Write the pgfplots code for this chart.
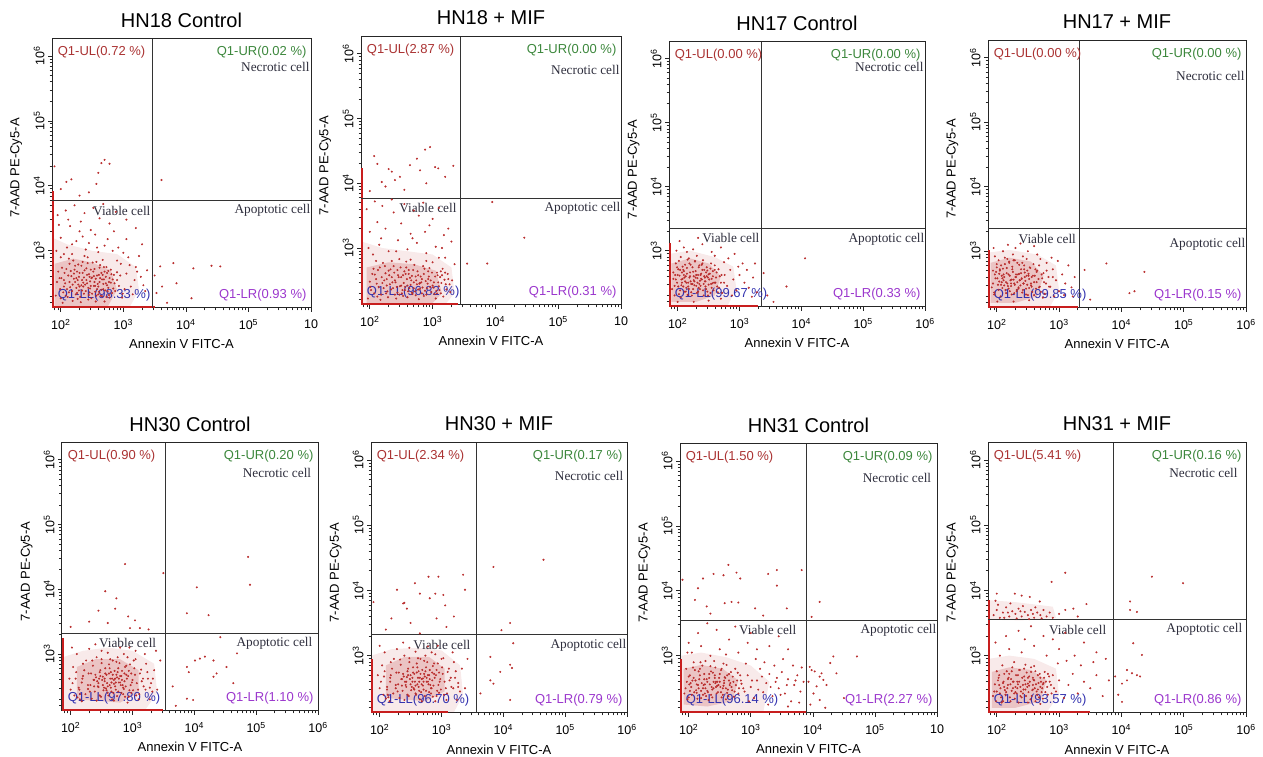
\documentclass[border=0pt]{standalone}
\usepackage{pgfplots}
\pgfplotsset{compat=1.18}
\usepackage{fontspec}
\setmainfont{Liberation Sans}
\newfontfamily\serifcell{Liberation Serif}
\definecolor{dotred}{RGB}{185,45,45}
\definecolor{pilered}{RGB}{200,30,30}
\definecolor{ulc}{RGB}{170,50,50}
\definecolor{urc}{RGB}{60,135,60}
\definecolor{llc}{RGB}{50,50,175}
\definecolor{lrc}{RGB}{155,55,205}
\definecolor{cellc}{RGB}{45,45,60}
\newcommand{\qf}{\fontsize{13}{15}\selectfont}
\newcommand{\cf}{\serifcell\fontsize{13.3}{15}\selectfont}
\newcommand{\tsup}[1]{10\textsuperscript{#1}}
\pgfplotsset{
  fcs/.style={
    scale only axis, anchor=south west,
    xmin=1.86, xmax=6.0, ymin=2.12, ymax=6.26,
    axis line style={line width=1pt, black!85},
    tick pos=left, tick align=outside,
    xtick={2,3,4,5,6}, ytick={3,4,5,6},
    minor xtick={1.903,1.954,2.301,2.477,2.602,2.699,2.778,2.845,2.903,2.954,3.301,3.477,3.602,3.699,3.778,3.845,3.903,3.954,4.301,4.477,4.602,4.699,4.778,4.845,4.903,4.954,5.301,5.477,5.602,5.699,5.778,5.845,5.903,5.954},
    minor ytick={2.204,2.301,2.477,2.602,2.699,2.778,2.845,2.903,2.954,3.301,3.477,3.602,3.699,3.778,3.845,3.903,3.954,4.301,4.477,4.602,4.699,4.778,4.845,4.903,4.954,5.301,5.477,5.602,5.699,5.778,5.845,5.903,5.954},
    major tick length=4pt, minor tick length=2.5pt,
    every tick/.style={black!85, line width=0.7pt},
    yticklabels={\tsup{3},\tsup{4},\tsup{5},\tsup{6}},
    yticklabel style={rotate=90, anchor=south, font=\fontsize{12.5}{14}\selectfont},
    xticklabel style={font=\fontsize{12.5}{14}\selectfont, yshift=-4pt},
    xlabel={Annexin V FITC-A}, ylabel={7-AAD PE-Cy5-A},
    every axis x label/.style={at={(axis description cs:0.5,-0.135)}, anchor=center, font=\fontsize{13}{15}\selectfont},
    every axis y label/.style={at={(axis description cs:-0.138,0.52)}, rotate=90, anchor=center, font=\fontsize{13}{15}\selectfont},
    title style={at={(0.5,1)}, anchor=center, yshift=13pt, font=\fontsize{20}{24}\selectfont},
  },
  xsix/.style={xticklabels={\tsup{2},\tsup{3},\tsup{4},\tsup{5},\tsup{6}}},
  xten/.style={xticklabels={\tsup{2},\tsup{3},\tsup{4},\tsup{5},10}},
  pts/.style={only marks, color=dotred, mark=*, mark size=0.8pt, mark options={draw=none, fill=dotred}},
  under/.style={draw=none, fill=dotred, fill opacity=0.1, no marks},
  core/.style={draw=none, fill=dotred, fill opacity=0.2, no marks},
  pile/.style={no marks, line width=1.8pt, color=pilered},
  gate/.style={no marks, line width=0.9pt, color=black!80},
}
\newcommand{\qlab}[4]{%
  \node[anchor=west, text=ulc, font=\qf, inner sep=0.5pt] at (rel axis cs:0.02,0.951) {Q1-UL(#1 \%)};
  \node[anchor=east, text=urc, font=\qf, inner sep=0.5pt] at (rel axis cs:0.985,0.951) {Q1-UR(#2 \%)};
  \node[anchor=west, text=llc, font=\qf, inner sep=0.5pt] at (rel axis cs:0.02,0.049) {Q1-LL(#3 \%)};
  \node[anchor=east, text=lrc, font=\qf, inner sep=0.5pt] at (rel axis cs:0.985,0.049) {Q1-LR(#4 \%)};
}
% #1 gx, #2 gy, #3 necrotic rel y, #4 necrotic rel x, #5 viable xshift, #6 apoptotic x, #7 apoptotic yshift
\newcommand{\clab}[7]{%
  \node[anchor=east, text=cellc, font=\cf, inner sep=0.5pt] at (rel axis cs:#4,#3) {Necrotic cell};
  \node[anchor=east, text=cellc, font=\cf, inner sep=0.5pt, xshift=-#5pt, yshift=-10pt] at (axis cs:#1,#2) {Viable cell};
  \node[anchor=east, text=cellc, font=\cf, inner sep=0.5pt, yshift=-#7pt] at (axis cs:#6,#2) {Apoptotic cell};
}
\begin{document}
\begin{tikzpicture}
\useasboundingbox (0,0) rectangle (1263pt,757pt);
% ---------------- HN18 Control
\begin{axis}[fcs, xten, at={(52pt,449pt)}, width=259pt, height=269pt, title={HN18 Control}]
\addplot[under] coordinates {(1.87,2.13) (1.87,3.2) (2.1,3.1) (2.5,3.0) (2.9,2.95) (3.2,2.75) (3.25,2.4) (3.1,2.13)} --cycle;
\addplot[core] coordinates {(1.9,2.14) (1.9,2.8) (2.2,2.88) (2.5,2.82) (2.8,2.7) (2.9,2.4) (2.75,2.14)} --cycle;
\addplot[pts] coordinates {(2.05,2.45) (2.12,2.62) (2.18,2.38) (2.22,2.71) (2.27,2.55) (2.31,2.29) (2.35,2.66) (2.39,2.48) (2.43,2.81) (2.46,2.36) (2.5,2.59) (2.54,2.72) (2.58,2.41) (2.62,2.52) (2.66,2.3) (2.7,2.68) (2.74,2.47) (2.78,2.58) (2.82,2.35) (2.02,2.74) (2.08,2.31) (2.14,2.52) (2.2,2.85) (2.25,2.43) (2.29,2.6) (2.33,2.77) (2.37,2.34) (2.41,2.55) (2.45,2.64) (2.49,2.27) (2.53,2.46) (2.57,2.83) (2.61,2.63) (2.65,2.4) (2.69,2.56) (2.73,2.75) (2.77,2.32) (2.81,2.64) (2.86,2.5) (1.98,2.58) (2.1,2.41) (2.16,2.69) (2.24,2.33) (2.28,2.79) (2.36,2.51) (2.44,2.43) (2.48,2.71) (2.56,2.57) (2.6,2.33) (2.68,2.49) (2.76,2.69) (2.84,2.42) (2.04,2.36) (2.13,2.88) (2.21,2.57) (2.3,2.45) (2.38,2.92) (2.47,2.53) (2.55,2.37) (2.63,2.78) (2.72,2.6) (2.8,2.51) (2.0,2.27) (2.06,2.66) (2.19,2.48) (2.26,2.68) (2.34,2.39) (2.42,2.63) (2.51,2.82) (2.59,2.49) (2.67,2.63) (2.75,2.38)
(1.92,2.31) (1.94,2.52) (1.96,2.68) (1.99,2.41) (2.01,2.58) (2.03,2.2) (2.07,2.5) (2.09,2.72) (2.11,2.29) (2.15,2.44) (2.17,2.61) (2.19,2.23) (2.23,2.52) (2.23,2.77) (2.26,2.35) (2.28,2.48) (2.3,2.66) (2.32,2.21) (2.34,2.55) (2.36,2.45) (2.38,2.7) (2.4,2.38) (2.42,2.5) (2.44,2.25) (2.46,2.6) (2.48,2.46) (2.5,2.34) (2.52,2.68) (2.54,2.52) (2.56,2.22) (2.58,2.62) (2.6,2.45) (2.62,2.74) (2.64,2.31) (2.66,2.56) (2.68,2.41) (2.7,2.22) (2.72,2.5) (2.74,2.66) (2.76,2.43) (2.78,2.28) (2.8,2.71) (2.83,2.56) (2.87,2.38) (2.9,2.67) (2.93,2.46) (2.96,2.8) (2.99,2.34) (2.13,2.36) (2.21,2.65) (2.29,2.39) (2.37,2.59) (2.45,2.32) (2.53,2.61) (2.61,2.37) (2.69,2.75) (2.77,2.52) (2.05,2.55) (2.14,2.8) (2.27,2.26) (2.35,2.83) (2.47,2.42) (2.57,2.31) (2.65,2.66) (2.73,2.29) (2.85,2.63) (2.0,2.9) (2.18,2.95) (2.43,2.9) (2.67,2.86) (3.12,2.45) (3.2,2.75) (3.28,2.6) (3.35,2.38) (3.05,2.65) (2.25,2.58) (2.33,2.47) (2.41,2.73) (2.49,2.58) (2.55,2.46) (2.63,2.58) (2.71,2.39)
(2.95,2.62) (3.02,2.41) (3.1,2.78) (3.18,2.55) (3.25,2.92) (3.32,2.47) (3.38,2.7) (2.92,3.05) (3.05,3.18) (3.15,2.33) (2.9,2.85) (3.0,2.97) (2.98,2.28) (3.22,2.68) (3.3,3.1) (2.1,3.05) (2.25,3.15) (2.4,3.02) (2.55,3.25) (2.7,3.08) (2.85,3.3) (2.0,3.2) (2.15,3.38) (2.32,3.45) (2.48,3.32) (2.62,3.5) (2.78,3.42) (1.95,3.55) (2.08,3.62) (2.22,3.7) (2.38,3.58) (2.52,3.66) (2.68,3.72) (2.88,3.6) (3.05,3.48) (3.2,3.35) (1.93,3.0) (2.05,2.95) (2.18,3.1) (2.35,3.22) (2.6,2.98) (2.75,3.18) (2.45,3.12) (2.9,2.55) (3.08,2.9) (2.12,3.48) (2.3,3.3) (1.97,3.4) (2.58,3.05) (2.83,3.0)
(2.65,4.35) (2.7,4.4) (2.78,4.34) (2.6,4.2) (2.57,4.03) (2.17,4.1) (2.09,4.06) (3.61,4.09) (1.9,4.3) (2.45,3.9) (2.3,3.85) (2.0,3.95)
(3.59,2.76) (3.8,2.81) (4.12,2.73) (4.41,2.77) (4.55,2.76) (3.85,2.5) (4.09,2.27) (3.53,2.35) (3.62,2.45) (3.5,2.62) (3.7,2.2)};
\addplot[pile] coordinates {(1.875,2.12) (1.875,3.92)};
\addplot[pile] coordinates {(1.86,2.137) (3.5,2.137)};
\addplot[gate] coordinates {(3.46,2.12) (3.46,6.26)};
\addplot[gate] coordinates {(1.86,3.77) (6.0,3.77)};
\qlab{0.72}{0.02}{98.33}{0.93}
\clab{3.46}{3.77}{0.896}{0.997}{1}{6.0}{10}
\end{axis}
% ---------------- HN18 + MIF
\begin{axis}[fcs, xten, at={(361pt,452pt)}, width=260pt, height=268pt, title={HN18 + MIF}]
\addplot[under] coordinates {(1.87,2.13) (1.87,3.1) (2.2,3.0) (2.6,2.95) (3.0,2.9) (3.3,2.7) (3.35,2.3) (3.2,2.13)} --cycle;
\addplot[core] coordinates {(1.95,2.15) (1.95,2.7) (2.3,2.78) (2.7,2.75) (3.05,2.65) (3.15,2.3) (3.0,2.15)} --cycle;
\addplot[pts] coordinates {(2.02,2.35) (2.1,2.52) (2.18,2.28) (2.25,2.61) (2.32,2.44) (2.38,2.72) (2.44,2.31) (2.5,2.55) (2.56,2.4) (2.62,2.66) (2.68,2.29) (2.74,2.5) (2.8,2.37) (2.86,2.6) (2.92,2.45) (2.98,2.32) (3.04,2.56) (3.1,2.41) (3.16,2.68) (3.22,2.36) (2.06,2.68) (2.14,2.4) (2.21,2.77) (2.28,2.33) (2.35,2.55) (2.41,2.47) (2.47,2.83) (2.53,2.26) (2.59,2.52) (2.65,2.43) (2.71,2.74) (2.77,2.58) (2.83,2.3) (2.89,2.49) (2.95,2.69) (3.01,2.39) (3.07,2.62) (3.13,2.3) (3.19,2.51) (3.27,2.44) (2.0,2.48) (2.12,2.25) (2.23,2.5) (2.3,2.65) (2.37,2.38) (2.45,2.58) (2.52,2.35) (2.58,2.79) (2.64,2.54) (2.7,2.38) (2.76,2.64) (2.82,2.47) (2.88,2.34) (2.94,2.56) (3.0,2.78) (3.06,2.34) (3.12,2.55) (3.2,2.62) (2.08,2.59) (2.16,2.7) (2.27,2.42) (2.4,2.28) (2.48,2.41) (2.55,2.64) (2.61,2.33) (2.67,2.57) (2.73,2.27) (2.79,2.45) (2.85,2.72) (2.91,2.38) (2.97,2.5) (3.03,2.29) (3.09,2.47) (3.15,2.58) (3.25,2.52)
(1.97,2.22) (2.01,2.4) (2.04,2.6) (2.07,2.3) (2.11,2.45) (2.13,2.66) (2.17,2.2) (2.19,2.55) (2.22,2.38) (2.24,2.72) (2.27,2.52) (2.29,2.24) (2.31,2.58) (2.34,2.36) (2.36,2.47) (2.39,2.62) (2.42,2.22) (2.43,2.4) (2.46,2.55) (2.49,2.7) (2.51,2.3) (2.54,2.46) (2.57,2.6) (2.6,2.24) (2.63,2.38) (2.66,2.5) (2.69,2.66) (2.72,2.33) (2.75,2.44) (2.78,2.21) (2.81,2.56) (2.84,2.39) (2.87,2.68) (2.9,2.28) (2.93,2.52) (2.96,2.4) (2.99,2.62) (3.02,2.47) (3.05,2.22) (3.08,2.58) (3.11,2.35) (3.14,2.46) (3.17,2.25) (3.21,2.44) (3.24,2.6) (3.28,2.32) (3.31,2.5) (2.2,2.46) (2.26,2.3) (2.33,2.67) (2.4,2.5) (2.47,2.28) (2.53,2.58) (2.6,2.42) (2.67,2.31) (2.73,2.56) (2.8,2.46) (2.86,2.26) (2.93,2.64) (3.0,2.42) (3.07,2.3) (3.13,2.64) (2.56,2.35) (2.62,2.6) (2.7,2.47) (2.77,2.36) (2.83,2.52) (2.5,2.42) (2.44,2.66) (2.58,2.7) (2.35,2.8) (2.65,2.82) (2.9,2.8) (3.1,2.85) (2.1,2.8)
(2.05,2.9) (2.15,3.05) (2.3,2.95) (2.45,3.12) (2.6,2.98) (2.75,3.08) (2.9,2.92) (3.05,3.02) (3.2,2.85) (3.3,3.1) (2.0,3.25) (2.12,3.4) (2.25,3.3) (2.38,3.55) (2.5,3.38) (2.65,3.22) (2.78,3.5) (2.95,3.35) (3.1,3.62) (3.25,3.3) (1.95,3.6) (2.08,3.72) (2.2,3.65) (2.35,3.75) (2.55,3.68) (2.7,3.58) (2.85,3.7) (3.0,3.45) (3.18,3.2) (3.35,2.75) (2.42,2.95) (2.68,3.15) (2.18,3.15) (1.98,3.0) (2.88,3.25) (3.15,3.0)
(2.96,4.56) (2.88,4.52) (2.64,4.28) (2.35,4.18) (2.19,4.02) (2.48,4.1) (2.8,4.2) (3.04,4.25) (3.33,4.27) (2.12,4.3) (2.07,4.42) (2.75,4.38) (3.09,4.23) (2.25,3.95) (2.55,3.9) (2.0,3.88) (2.4,4.05) (2.9,4.0) (3.2,4.1) (2.3,4.22)
(3.95,3.71) (4.46,3.16) (3.87,2.76) (3.55,2.76)};
\addplot[pile] coordinates {(1.875,2.12) (1.875,4.23)};
\addplot[pile] coordinates {(1.86,2.137) (3.4,2.137)};
\addplot[gate] coordinates {(3.44,2.12) (3.44,6.26)};
\addplot[gate] coordinates {(1.86,3.77) (6.0,3.77)};
\qlab{2.87}{0.00}{96.82}{0.31}
\clab{3.44}{3.77}{0.877}{0.997}{3}{6.0}{10}
\end{axis}
% ---------------- HN17 Control
\begin{axis}[fcs, xsix, at={(669pt,450pt)}, width=256pt, height=265pt, title={HN17 Control}]
\addplot[under] coordinates {(1.87,2.13) (1.87,2.95) (2.2,3.0) (2.6,2.9) (2.9,2.75) (2.95,2.4) (2.8,2.13)} --cycle;
\addplot[core] coordinates {(1.9,2.2) (1.9,2.8) (2.2,2.88) (2.5,2.8) (2.7,2.6) (2.6,2.3) (2.3,2.2)} --cycle;
\addplot[pts] coordinates {(1.95,2.45) (2.0,2.62) (2.04,2.38) (2.08,2.75) (2.12,2.52) (2.16,2.31) (2.2,2.66) (2.24,2.48) (2.28,2.83) (2.32,2.57) (2.36,2.4) (2.4,2.7) (2.44,2.52) (2.48,2.36) (2.52,2.64) (2.56,2.49) (2.6,2.77) (2.64,2.44) (2.68,2.6) (2.72,2.34) (1.97,2.8) (2.02,2.32) (2.06,2.55) (2.1,2.68) (2.14,2.42) (2.18,2.88) (2.22,2.35) (2.26,2.6) (2.3,2.45) (2.34,2.74) (2.38,2.56) (2.42,2.3) (2.46,2.66) (2.5,2.47) (2.54,2.8) (2.58,2.38) (2.62,2.58) (2.66,2.71) (2.7,2.5) (2.76,2.62) (1.93,2.56) (2.01,2.71) (2.09,2.44) (2.13,2.6) (2.17,2.5) (2.21,2.78) (2.25,2.4) (2.29,2.68) (2.33,2.36) (2.37,2.62) (2.41,2.85) (2.45,2.44) (2.49,2.58) (2.53,2.34) (2.57,2.68) (2.61,2.5) (2.65,2.35) (2.05,2.9) (2.19,2.58) (2.27,2.52) (2.35,2.48) (2.43,2.6) (2.11,2.36) (2.31,2.92) (2.39,2.78) (2.47,2.74) (2.55,2.56) (1.99,2.5) (2.07,2.66) (2.15,2.73)
(1.91,2.4) (1.93,2.66) (1.95,2.3) (1.97,2.55) (1.99,2.74) (2.01,2.44) (2.03,2.61) (2.05,2.27) (2.07,2.5) (2.09,2.7) (2.11,2.58) (2.13,2.36) (2.15,2.64) (2.17,2.44) (2.19,2.8) (2.21,2.52) (2.23,2.3) (2.25,2.67) (2.27,2.46) (2.29,2.58) (2.31,2.34) (2.33,2.62) (2.35,2.77) (2.37,2.45) (2.39,2.55) (2.41,2.38) (2.43,2.7) (2.45,2.52) (2.47,2.6) (2.49,2.3) (2.51,2.55) (2.53,2.72) (2.55,2.42) (2.57,2.6) (2.59,2.5) (2.63,2.66) (2.67,2.42) (2.71,2.62) (2.75,2.5) (2.08,2.56) (2.14,2.5) (2.2,2.6) (2.26,2.54) (2.32,2.5) (2.38,2.64) (2.44,2.58) (2.5,2.63) (2.18,2.4) (2.24,2.74) (2.3,2.62) (2.36,2.53) (2.42,2.48) (2.48,2.69) (2.12,2.78) (2.06,2.46) (2.28,2.84) (2.4,2.8) (2.54,2.48) (2.6,2.7) (2.02,2.84) (2.16,2.86) (2.46,2.4) (2.22,2.48) (2.34,2.42) (2.1,2.62) (2.04,2.7) (1.96,2.62) (2.26,2.2) (2.5,2.22) (2.7,2.25) (2.0,2.2)
(2.8,2.45) (2.85,2.7) (2.9,2.55) (2.95,2.38) (3.0,2.62) (3.08,2.5) (3.15,2.42) (3.22,2.58) (3.28,2.35) (2.82,2.88) (2.92,2.95) (3.05,2.8) (1.98,3.0) (2.1,3.05) (2.25,3.02) (2.4,3.1) (2.55,2.98) (2.7,3.05) (2.6,2.92) (2.15,2.98) (2.75,2.82) (3.12,2.7) (2.88,2.3) (3.2,2.28) (2.03,3.15) (2.33,3.2) (2.98,2.75) (3.25,2.8)
(3.39,2.65) (4.06,2.88) (3.76,2.44) (3.55,2.2) (3.45,2.3)};
\addplot[pile] coordinates {(1.875,2.12) (1.875,3.12)};
\addplot[pile] coordinates {(1.86,2.137) (3.3,2.137)};
\addplot[gate] coordinates {(3.35,2.12) (3.35,6.26)};
\addplot[gate] coordinates {(1.86,3.35) (6.0,3.35)};
\qlab{0.00}{0.00}{99.67}{0.33}
\clab{3.35}{3.35}{0.906}{0.997}{1}{6.0}{11}
\end{axis}
% ---------------- HN17 + MIF
\begin{axis}[fcs, xsix, at={(988pt,449pt)}, width=258pt, height=267pt, title={HN17 + MIF}]
\addplot[under] coordinates {(1.87,2.13) (1.87,2.98) (2.2,3.02) (2.65,2.95) (2.95,2.78) (3.0,2.4) (2.85,2.13)} --cycle;
\addplot[core] coordinates {(1.9,2.2) (1.9,2.82) (2.2,2.9) (2.55,2.84) (2.75,2.62) (2.65,2.3) (2.3,2.2)} --cycle;
\addplot[pts] coordinates {(1.94,2.5) (1.99,2.68) (2.03,2.4) (2.07,2.78) (2.11,2.55) (2.15,2.35) (2.19,2.64) (2.23,2.46) (2.27,2.86) (2.31,2.6) (2.35,2.42) (2.39,2.72) (2.43,2.5) (2.47,2.33) (2.51,2.62) (2.55,2.47) (2.59,2.8) (2.63,2.42) (2.67,2.57) (2.71,2.37) (2.75,2.66) (2.79,2.5) (1.96,2.33) (2.01,2.58) (2.05,2.7) (2.09,2.43) (2.13,2.9) (2.17,2.5) (2.21,2.38) (2.25,2.72) (2.29,2.48) (2.33,2.82) (2.37,2.55) (2.41,2.36) (2.45,2.67) (2.49,2.48) (2.53,2.75) (2.57,2.37) (2.61,2.62) (2.65,2.7) (2.69,2.45) (2.73,2.58) (2.77,2.34) (2.83,2.6) (2.0,2.8) (2.08,2.62) (2.16,2.74) (2.24,2.56) (2.32,2.4) (2.4,2.58) (2.48,2.88) (2.56,2.6) (2.64,2.52) (2.12,2.47) (2.2,2.84) (2.28,2.35) (2.36,2.65) (2.44,2.78) (2.52,2.43) (2.6,2.32) (2.68,2.78) (2.04,2.53) (1.97,2.92) (2.26,2.95) (2.42,2.92)
(1.92,2.44) (1.94,2.7) (1.96,2.36) (1.98,2.58) (2.0,2.75) (2.02,2.48) (2.04,2.65) (2.06,2.3) (2.08,2.52) (2.1,2.73) (2.12,2.6) (2.14,2.4) (2.16,2.66) (2.18,2.46) (2.2,2.82) (2.22,2.55) (2.24,2.33) (2.26,2.68) (2.28,2.5) (2.3,2.6) (2.32,2.38) (2.34,2.64) (2.36,2.79) (2.38,2.47) (2.4,2.57) (2.42,2.4) (2.44,2.72) (2.46,2.54) (2.48,2.62) (2.5,2.32) (2.52,2.57) (2.54,2.74) (2.56,2.45) (2.58,2.62) (2.6,2.52) (2.64,2.68) (2.68,2.44) (2.72,2.64) (2.76,2.52) (2.8,2.7) (2.84,2.45) (2.09,2.58) (2.15,2.52) (2.21,2.62) (2.27,2.56) (2.33,2.52) (2.39,2.66) (2.45,2.6) (2.51,2.65) (2.19,2.42) (2.25,2.76) (2.31,2.64) (2.37,2.55) (2.43,2.5) (2.49,2.7) (2.13,2.8) (2.07,2.48) (2.29,2.86) (2.41,2.82) (2.55,2.5) (2.62,2.72) (2.03,2.86) (2.17,2.88) (2.47,2.42) (2.23,2.5) (2.35,2.44) (2.11,2.64) (2.05,2.72) (1.97,2.64) (2.27,2.22) (2.52,2.24) (2.74,2.28) (2.01,2.22) (2.7,2.88) (2.9,2.6)
(2.86,2.45) (2.9,2.72) (2.95,2.55) (3.0,2.38) (3.05,2.64) (3.1,2.5) (3.15,2.78) (3.2,2.44) (3.25,2.6) (2.88,2.9) (2.98,2.85) (1.95,3.05) (2.1,3.0) (2.3,3.05) (2.5,3.0) (2.65,2.95) (2.8,2.82) (3.08,2.32) (2.18,3.1) (2.6,3.08) (2.92,2.3) (2.38,3.12) (3.22,2.3)
(3.41,2.71) (3.76,2.81) (4.37,2.68) (4.13,2.35) (4.21,2.38) (3.5,2.25)};
\addplot[pile] coordinates {(1.875,2.12) (1.875,3.02)};
\addplot[pile] coordinates {(1.86,2.137) (3.3,2.137)};
\addplot[gate] coordinates {(3.33,2.12) (3.33,6.26)};
\addplot[gate] coordinates {(1.86,3.35) (6.0,3.35)};
\qlab{0.00}{0.00}{99.85}{0.15}
\clab{3.33}{3.35}{0.87}{0.997}{3}{6.0}{16}
\end{axis}
% ---------------- HN30 Control
\begin{axis}[fcs, xsix, at={(62pt,46pt)}, width=256pt, height=268pt, title={HN30 Control}]
\addplot[under] coordinates {(1.87,2.13) (1.87,2.95) (2.2,3.05) (2.6,3.1) (3.0,3.05) (3.35,2.85) (3.4,2.4) (3.2,2.13)} --cycle;
\addplot[core] coordinates {(2.1,2.3) (2.1,2.8) (2.4,2.92) (2.8,2.92) (3.1,2.75) (3.1,2.4) (2.8,2.25)} --cycle;
\addplot[pts] coordinates {(2.0,2.45) (2.08,2.62) (2.15,2.38) (2.22,2.75) (2.28,2.52) (2.34,2.31) (2.4,2.68) (2.45,2.49) (2.5,2.86) (2.55,2.58) (2.6,2.4) (2.65,2.72) (2.7,2.54) (2.75,2.35) (2.8,2.66) (2.85,2.48) (2.9,2.82) (2.95,2.44) (3.0,2.6) (3.06,2.36) (3.12,2.7) (3.18,2.5) (3.25,2.62) (3.32,2.42) (2.04,2.8) (2.11,2.33) (2.18,2.56) (2.25,2.9) (2.31,2.42) (2.37,2.6) (2.42,2.95) (2.47,2.36) (2.52,2.65) (2.57,2.47) (2.62,2.84) (2.67,2.3) (2.72,2.62) (2.77,2.78) (2.82,2.4) (2.87,2.58) (2.92,2.95) (2.97,2.52) (3.03,2.78) (3.09,2.45) (3.15,2.58) (3.22,2.85) (3.3,2.55) (2.38,2.5) (2.48,2.75) (2.58,2.68) (2.63,2.52) (2.68,2.9) (2.73,2.45) (2.78,2.56) (2.83,2.74) (2.88,2.34) (2.93,2.66) (2.98,2.4) (2.53,2.44) (2.43,2.58) (2.33,2.7) (2.64,2.62) (2.74,2.68) (2.84,2.52) (2.94,2.74) (2.56,2.78) (2.46,2.62) (2.66,2.42) (2.76,2.95) (3.02,2.9) (2.2,2.66) (2.13,2.48) (2.06,2.36) (2.86,3.0) (2.6,3.02) (2.7,2.28) (3.1,2.3)
(2.03,2.55) (2.09,2.72) (2.14,2.45) (2.19,2.62) (2.24,2.38) (2.29,2.7) (2.32,2.52) (2.36,2.82) (2.39,2.42) (2.41,2.64) (2.44,2.5) (2.47,2.72) (2.49,2.34) (2.51,2.6) (2.54,2.48) (2.56,2.7) (2.59,2.55) (2.61,2.36) (2.63,2.78) (2.65,2.48) (2.67,2.62) (2.69,2.4) (2.71,2.74) (2.73,2.56) (2.75,2.64) (2.77,2.42) (2.79,2.86) (2.81,2.52) (2.83,2.6) (2.85,2.38) (2.87,2.7) (2.89,2.5) (2.91,2.62) (2.94,2.34) (2.96,2.84) (2.99,2.56) (3.01,2.44) (3.04,2.68) (3.07,2.55) (3.11,2.38) (3.14,2.76) (3.17,2.62) (3.21,2.45) (3.24,2.72) (3.28,2.48) (3.33,2.62) (2.45,2.55) (2.55,2.62) (2.6,2.5) (2.7,2.6) (2.8,2.56) (2.9,2.68) (2.62,2.7) (2.72,2.5) (2.82,2.66) (2.52,2.52) (2.66,2.56) (2.76,2.72) (2.86,2.46) (2.58,2.44) (2.68,2.68) (2.78,2.62) (2.48,2.66) (2.38,2.6) (2.28,2.46) (2.88,2.8) (2.98,2.7) (2.74,2.88) (2.64,2.92) (2.5,2.92) (2.35,2.9) (3.05,2.92) (2.2,2.85) (2.15,2.3) (2.42,2.28) (2.92,2.25)
(2.1,3.0) (2.3,3.08) (2.5,3.05) (3.2,3.0) (3.35,2.75) (3.4,2.45) (3.45,2.9) (1.98,2.62) (2.02,3.1) (2.95,3.1) (2.4,3.15) (3.28,2.3) (2.18,2.27) (3.38,3.05) (2.8,3.1) (3.05,3.05)
(2.88,4.39) (2.56,3.97) (2.74,3.86) (2.45,3.67) (2.72,3.7) (2.93,3.58) (3.04,3.52) (2.96,3.4) (3.12,3.4) (3.26,3.38) (3.5,4.25) (2.3,3.5) (2.0,3.42) (2.6,3.48)
(4.87,4.5) (4.9,4.07) (4.04,4.03) (3.88,3.63) (4.23,3.6)
(3.88,2.8) (3.91,2.72) (4.01,2.9) (4.09,2.93) (4.17,2.96) (4.42,3.26) (4.31,2.65) (4.36,2.7) (4.52,2.8) (4.69,3.01) (3.88,2.31) (3.98,2.29) (4.31,2.9) (4.63,2.55) (3.65,2.5) (3.7,2.2)};
\addplot[pile] coordinates {(1.875,2.12) (1.875,3.25)};
\addplot[pile] coordinates {(1.86,2.137) (3.5,2.137)};
\addplot[gate] coordinates {(3.54,2.12) (3.54,6.26)};
\addplot[gate] coordinates {(1.86,3.32) (6.0,3.32)};
\qlab{0.90}{0.20}{97.80}{1.10}
\clab{3.54}{3.32}{0.888}{0.976}{9}{5.92}{10}
\end{axis}
% ---------------- HN30 + MIF
\begin{axis}[fcs, xsix, at={(371pt,44pt)}, width=256pt, height=270pt, title={HN30 + MIF}]
\addplot[under] coordinates {(1.87,2.13) (1.87,3.0) (2.2,3.1) (2.6,3.12) (3.0,3.08) (3.3,2.85) (3.35,2.4) (3.2,2.13)} --cycle;
\addplot[core] coordinates {(2.1,2.35) (2.1,2.85) (2.4,2.98) (2.8,2.98) (3.05,2.8) (3.05,2.45) (2.75,2.3)} --cycle;
\addplot[pts] coordinates {(2.0,2.5) (2.07,2.68) (2.13,2.4) (2.2,2.8) (2.26,2.55) (2.32,2.35) (2.38,2.72) (2.43,2.52) (2.48,2.9) (2.53,2.6) (2.58,2.42) (2.63,2.76) (2.68,2.56) (2.73,2.38) (2.78,2.7) (2.83,2.5) (2.88,2.88) (2.93,2.46) (2.98,2.64) (3.04,2.4) (3.1,2.75) (3.16,2.52) (3.22,2.66) (3.3,2.45) (2.04,2.85) (2.1,2.34) (2.17,2.6) (2.23,2.95) (2.29,2.45) (2.35,2.64) (2.4,3.0) (2.45,2.4) (2.5,2.7) (2.55,2.5) (2.6,2.88) (2.65,2.33) (2.7,2.65) (2.75,2.82) (2.8,2.44) (2.85,2.62) (2.9,3.02) (2.95,2.55) (3.01,2.82) (3.07,2.5) (3.13,2.62) (3.2,2.9) (3.27,2.58) (2.36,2.54) (2.46,2.8) (2.56,2.72) (2.61,2.56) (2.66,2.95) (2.71,2.48) (2.76,2.6) (2.81,2.78) (2.86,2.37) (2.91,2.7) (2.96,2.43) (2.51,2.47) (2.41,2.6) (2.31,2.74) (2.62,2.66) (2.72,2.72) (2.82,2.55) (2.92,2.78) (2.54,2.82) (2.44,2.67) (2.64,2.46) (2.74,3.0) (3.0,2.95) (2.18,2.7) (2.12,2.52) (2.06,2.4) (2.84,3.05) (2.58,3.06) (2.68,2.3) (3.08,2.32)
(2.02,2.6) (2.08,2.76) (2.12,2.48) (2.17,2.66) (2.22,2.42) (2.27,2.74) (2.3,2.56) (2.34,2.86) (2.37,2.46) (2.39,2.68) (2.42,2.55) (2.45,2.76) (2.47,2.38) (2.49,2.64) (2.52,2.52) (2.54,2.74) (2.57,2.6) (2.59,2.4) (2.61,2.82) (2.63,2.52) (2.65,2.66) (2.67,2.44) (2.69,2.78) (2.71,2.6) (2.73,2.68) (2.75,2.46) (2.77,2.9) (2.79,2.56) (2.81,2.64) (2.83,2.42) (2.85,2.74) (2.87,2.54) (2.89,2.66) (2.92,2.38) (2.94,2.88) (2.97,2.6) (2.99,2.48) (3.02,2.72) (3.05,2.6) (3.09,2.42) (3.12,2.8) (3.15,2.66) (3.19,2.5) (3.23,2.76) (3.27,2.52) (2.43,2.6) (2.53,2.66) (2.58,2.54) (2.68,2.64) (2.78,2.6) (2.88,2.72) (2.6,2.74) (2.7,2.54) (2.8,2.7) (2.5,2.56) (2.64,2.6) (2.74,2.76) (2.84,2.5) (2.56,2.48) (2.66,2.72) (2.76,2.66) (2.46,2.7) (2.36,2.64) (2.26,2.5) (2.86,2.84) (2.96,2.74) (2.72,2.92) (2.62,2.96) (2.48,2.96) (2.33,2.94) (3.03,2.96) (2.18,2.9) (2.14,2.36) (2.4,2.32) (2.9,2.3)
(2.08,3.05) (2.28,3.1) (2.48,3.12) (3.18,3.05) (3.33,2.8) (3.38,2.5) (3.42,2.95) (1.97,2.7) (2.0,3.15) (2.94,3.15) (2.38,3.2) (3.25,2.32) (2.16,2.3) (2.78,3.14)
(2.79,4.21) (2.95,4.21) (3.35,4.24) (3.38,4.01) (2.57,4.11) (2.65,3.95) (2.38,3.8) (2.28,4.01) (2.19,3.57) (2.44,3.72) (2.81,3.88) (2.9,3.95) (3.03,3.93) (3.06,3.77) (2.92,3.57) (3.08,3.44) (2.65,3.34) (1.9,3.82) (2.4,3.81) (2.1,3.4) (2.5,3.5) (3.2,3.6)
(3.84,4.36) (4.65,4.47) (4.11,3.5) (3.97,3.39)
(4.16,3.19) (3.79,2.98) (3.95,2.75) (4.11,2.86) (4.14,2.81) (3.79,2.62) (3.84,2.57) (4.11,2.32) (3.63,2.42)};
\addplot[pile] coordinates {(1.875,2.12) (1.875,2.95)};
\addplot[pile] coordinates {(1.86,2.137) (3.1,2.137)};
\addplot[gate] coordinates {(3.56,2.12) (3.56,6.26)};
\addplot[gate] coordinates {(1.86,3.32) (6.0,3.32)};
\qlab{2.34}{0.17}{96.70}{0.79}
\clab{3.56}{3.32}{0.877}{0.988}{5}{6.0}{11}
\end{axis}
% ---------------- HN31 Control
\begin{axis}[fcs, xten, at={(680pt,44pt)}, width=257pt, height=269pt, title={HN31 Control}]
\addplot[under] coordinates {(1.87,2.13) (1.87,3.0) (2.2,3.05) (2.6,2.98) (3.0,2.85) (3.3,2.6) (3.2,2.13)} --cycle;
\addplot[core] coordinates {(1.92,2.25) (1.92,2.8) (2.2,2.86) (2.55,2.8) (2.8,2.62) (2.7,2.3) (2.3,2.22)} --cycle;
\addplot[pts] coordinates {(1.95,2.5) (2.0,2.68) (2.05,2.4) (2.1,2.78) (2.15,2.55) (2.2,2.35) (2.25,2.64) (2.3,2.46) (2.35,2.84) (2.4,2.6) (2.45,2.42) (2.5,2.72) (2.55,2.5) (2.6,2.33) (2.65,2.62) (2.7,2.47) (2.75,2.8) (2.8,2.42) (2.85,2.57) (1.98,2.33) (2.03,2.58) (2.08,2.9) (2.13,2.43) (2.18,2.7) (2.23,2.5) (2.28,2.38) (2.33,2.72) (2.38,2.48) (2.43,2.82) (2.48,2.55) (2.53,2.36) (2.58,2.67) (2.63,2.48) (2.68,2.75) (2.73,2.37) (2.78,2.62) (2.83,2.7) (1.96,2.8) (2.06,2.62) (2.16,2.76) (2.26,2.56) (2.36,2.4) (2.46,2.6) (2.56,2.88) (2.66,2.55) (2.12,2.47) (2.22,2.85) (2.32,2.32) (2.42,2.66) (2.52,2.78) (2.62,2.43) (2.72,2.6) (2.02,2.46) (2.27,2.92) (2.44,2.52) (2.57,2.58)
(1.93,2.42) (1.97,2.6) (2.0,2.36) (2.02,2.7) (2.04,2.52) (2.07,2.82) (2.09,2.44) (2.11,2.62) (2.14,2.34) (2.16,2.5) (2.18,2.8) (2.21,2.58) (2.23,2.4) (2.25,2.72) (2.27,2.5) (2.29,2.64) (2.31,2.44) (2.34,2.56) (2.36,2.76) (2.38,2.36) (2.4,2.5) (2.42,2.7) (2.44,2.6) (2.47,2.44) (2.49,2.66) (2.51,2.52) (2.53,2.8) (2.55,2.4) (2.57,2.62) (2.6,2.5) (2.62,2.7) (2.64,2.38) (2.67,2.58) (2.69,2.52) (2.71,2.68) (2.74,2.45) (2.76,2.55) (2.79,2.74) (2.81,2.5) (2.84,2.62) (2.17,2.64) (2.24,2.55) (2.3,2.6) (2.37,2.52) (2.43,2.58) (2.5,2.6) (2.56,2.54) (2.13,2.56) (2.2,2.46) (2.33,2.66) (2.46,2.54) (2.59,2.66) (2.08,2.66) (2.26,2.42) (2.39,2.74) (2.52,2.44) (2.65,2.72) (2.01,2.56) (2.19,2.9) (2.41,2.92) (2.61,2.86) (2.88,2.5) (3.02,2.62) (3.12,2.48) (3.18,2.68) (3.32,2.52) (3.42,2.66) (3.48,2.4) (3.58,2.55) (3.72,2.62)
(2.9,2.45) (2.95,2.7) (3.0,2.52) (3.05,2.35) (3.1,2.62) (3.15,2.8) (3.2,2.44) (3.25,2.58) (3.3,2.72) (3.35,2.38) (3.4,2.6) (3.45,2.5) (3.5,2.75) (3.55,2.42) (3.6,2.64) (3.65,2.3) (3.7,2.55) (3.75,2.7) (3.8,2.45) (3.85,2.6) (2.92,2.88) (3.08,2.95) (3.22,2.9) (3.38,2.85) (3.52,2.95) (3.68,2.85) (3.82,2.82) (2.97,2.3) (3.28,2.25) (3.6,2.22) (3.78,2.28) (2.05,3.05) (2.2,3.15) (2.35,3.0) (2.5,3.1) (2.65,3.25) (2.8,3.05) (2.95,3.2) (3.1,3.1) (2.15,3.35) (2.45,3.4) (2.75,3.45) (3.3,3.15) (2.0,3.2) (2.6,3.02) (3.45,3.3) (2.3,3.5) (1.98,3.05) (3.0,3.35) (3.6,3.1)
(2.1,3.86) (2.29,3.76) (2.15,4.04) (2.23,4.19) (2.4,4.26) (2.56,4.24) (2.64,4.4) (2.77,4.28) (2.83,4.19) (2.58,3.81) (2.69,3.83) (2.8,3.82) (3.07,3.73) (3.28,4.26) (3.42,4.32) (3.42,4.08) (3.58,3.73) (3.82,4.32) (1.9,4.17) (2.35,3.65) (3.2,3.62)
(4.11,3.83) (3.98,3.6)
(3.95,2.83) (3.98,2.78) (4.03,2.76) (4.11,2.68) (4.17,2.63) (4.22,2.55) (4.06,2.53) (4.14,2.73) (4.28,2.89) (4.33,2.99) (4.71,2.99) (4.01,2.42) (4.11,2.32) (4.38,2.73) (3.93,2.6) (3.96,2.25) (4.2,2.2) (4.5,2.35)};
\addplot[pile] coordinates {(1.875,2.12) (1.875,2.95)};
\addplot[pile] coordinates {(1.86,2.137) (3.9,2.137)};
\addplot[gate] coordinates {(3.89,2.12) (3.89,6.26)};
\addplot[gate] coordinates {(1.86,3.55) (6.0,3.55)};
\qlab{1.50}{0.09}{96.14}{2.27}
\clab{3.89}{3.55}{0.874}{0.98}{9}{6.0}{10}
\end{axis}
% ---------------- HN31 + MIF
\begin{axis}[fcs, xsix, at={(988pt,44pt)}, width=258pt, height=270pt, title={HN31 + MIF}]
\addplot[under] coordinates {(1.87,2.13) (1.87,2.95) (2.2,3.0) (2.6,2.95) (2.95,2.8) (3.0,2.4) (2.8,2.13)} --cycle;
\addplot[core] coordinates {(1.92,2.2) (1.92,2.75) (2.2,2.82) (2.55,2.78) (2.8,2.62) (2.7,2.3) (2.3,2.2)} --cycle;
\addplot[under] coordinates {(1.87,3.55) (1.87,3.85) (2.3,3.82) (2.9,3.75) (2.95,3.58) (2.4,3.54)} --cycle;
\addplot[pts] coordinates {(1.96,2.45) (2.02,2.62) (2.07,2.36) (2.12,2.72) (2.17,2.5) (2.22,2.3) (2.27,2.6) (2.32,2.42) (2.37,2.78) (2.42,2.55) (2.47,2.38) (2.52,2.68) (2.57,2.47) (2.62,2.3) (2.67,2.58) (2.72,2.44) (2.77,2.75) (2.82,2.4) (2.87,2.55) (1.99,2.3) (2.04,2.55) (2.09,2.85) (2.14,2.4) (2.19,2.66) (2.24,2.46) (2.29,2.34) (2.34,2.7) (2.39,2.45) (2.44,2.8) (2.49,2.52) (2.54,2.33) (2.59,2.63) (2.64,2.45) (2.69,2.72) (2.74,2.34) (2.79,2.6) (2.84,2.68) (2.0,2.76) (2.1,2.58) (2.2,2.72) (2.3,2.52) (2.4,2.36) (2.5,2.57) (2.6,2.84) (2.7,2.52) (2.15,2.44) (2.25,2.82) (2.35,2.28) (2.45,2.62) (2.55,2.75) (2.65,2.4) (2.75,2.58) (2.05,2.42) (2.28,2.9) (2.46,2.48) (2.58,2.55) (2.9,2.7) (2.33,2.6)
(1.94,2.38) (1.97,2.56) (2.0,2.45) (2.03,2.66) (2.06,2.5) (2.08,2.28) (2.11,2.6) (2.13,2.47) (2.16,2.76) (2.18,2.55) (2.21,2.36) (2.23,2.64) (2.26,2.5) (2.28,2.42) (2.31,2.7) (2.33,2.5) (2.36,2.6) (2.38,2.38) (2.41,2.66) (2.43,2.48) (2.46,2.56) (2.48,2.74) (2.51,2.44) (2.53,2.6) (2.56,2.38) (2.58,2.66) (2.61,2.5) (2.63,2.56) (2.66,2.7) (2.68,2.36) (2.71,2.6) (2.73,2.5) (2.76,2.66) (2.78,2.44) (2.81,2.52) (2.85,2.6) (2.88,2.42) (2.22,2.56) (2.3,2.44) (2.38,2.52) (2.44,2.68) (2.52,2.54) (2.6,2.62) (2.66,2.48) (2.74,2.56) (2.18,2.64) (2.26,2.6) (2.34,2.56) (2.42,2.42) (2.5,2.66) (2.58,2.48) (2.7,2.66) (2.12,2.52) (2.36,2.78) (2.55,2.82) (2.62,2.76) (2.46,2.86) (2.24,2.76) (2.04,2.7) (2.82,2.72) (2.92,2.5) (2.1,2.3) (2.5,2.28) (2.7,2.26)
(2.95,2.45) (3.0,2.62) (3.08,2.35) (3.15,2.55) (3.22,2.72) (3.3,2.42) (3.4,2.6) (3.5,2.5) (3.6,2.7) (3.7,2.38) (3.8,2.62) (2.98,2.88) (3.12,2.92) (3.35,2.85) (3.55,2.9) (2.05,3.0) (2.2,3.1) (2.4,3.05) (2.6,3.15) (2.8,3.0) (3.0,3.1) (2.15,3.3) (2.35,3.38) (2.55,3.45) (2.75,3.3) (3.1,3.35) (3.4,3.2) (1.98,3.2) (2.9,3.25) (3.6,3.05) (3.25,3.0) (2.45,3.25) (3.75,2.95)
(1.95,3.62) (2.0,3.7) (2.05,3.58) (2.1,3.66) (2.15,3.74) (2.2,3.6) (2.25,3.68) (2.3,3.64) (2.35,3.72) (2.4,3.6) (2.45,3.67) (2.5,3.62) (2.55,3.7) (2.6,3.58) (2.65,3.66) (2.7,3.62) (2.75,3.7) (2.8,3.6) (2.85,3.66) (2.02,3.78) (2.12,3.58) (2.22,3.8) (2.32,3.57) (2.42,3.76) (2.52,3.56) (2.62,3.74) (2.72,3.57) (1.98,3.84) (2.18,3.66) (2.38,3.68) (2.58,3.64) (2.9,3.58) (3.0,3.64) (3.1,3.7)
(2.88,4.13) (3.1,4.27) (3.44,3.79) (3.23,3.72) (2.29,3.95) (2.53,3.9) (2.69,3.83) (2.0,3.95) (2.4,3.92) (3.3,3.6)
(4.14,3.83) (4.14,3.7) (4.25,3.67) (4.49,4.21) (4.99,4.11)
(4.19,3.19) (4.33,3.01) (4.09,2.78) (4.17,2.73) (4.25,2.7) (4.3,2.68) (4.01,2.57) (4.09,2.62) (4.01,2.29) (3.9,2.68) (3.95,2.4)};
\addplot[pile] coordinates {(1.875,2.12) (1.875,3.85)};
\addplot[pile] coordinates {(1.86,2.137) (3.5,2.137)};
\addplot[gate] coordinates {(3.88,2.12) (3.88,6.26)};
\addplot[gate] coordinates {(1.86,3.55) (6.0,3.55)};
\qlab{5.41}{0.16}{93.57}{0.86}
\clab{3.88}{3.55}{0.889}{0.97}{7}{5.95}{10}
\end{axis}
\end{tikzpicture}
\end{document}
